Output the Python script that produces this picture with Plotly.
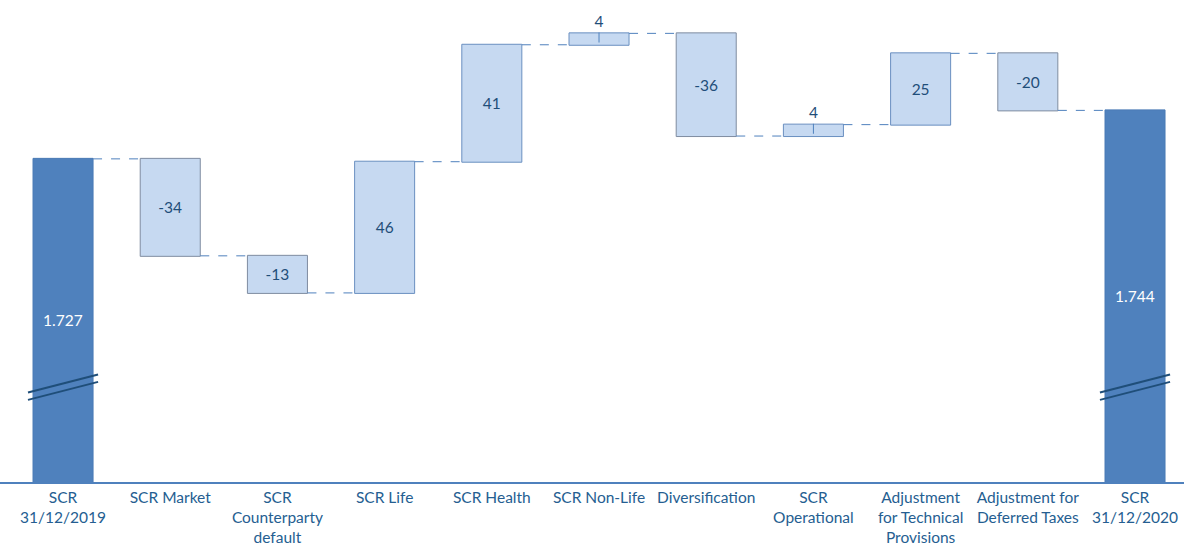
import plotly.graph_objects as go

categories = ["SCR<br>31/12/2019", "SCR Market", "SCR<br>Counterparty<br>default", "SCR Life",
              "SCR Health", "SCR Non-Life", "Diversification", "SCR<br>Operational",
              "Adjustment<br>for Technical<br>Provisions", "Adjustment for<br>Deferred Taxes",
              "SCR<br>31/12/2020"]
values = [1727, -34, -13, 46, 41, 4, -36, 4, 25, -20, 1744]
measures = ["absolute"] + ["relative"] * 9 + ["total"]
labels = ["1.727", "-34", "-13", "46", "41", "4", "-36", "4", "25", "-20", "1.744"]

Y_MIN, Y_MAX = 1613.7, 1782.7
FONT = "Lato"
VAL_COLOR = "#1f4e79"
TICK_COLOR = "#255e91"

x = list(range(len(categories)))

textpos = []
texts = []
for i, v in enumerate(values):
    if measures[i] != "relative":
        textpos.append("none")
        texts.append("")
    elif abs(v) < 8:
        textpos.append("outside")
        texts.append(labels[i])
    else:
        textpos.append("inside")
        texts.append(labels[i])

fig = go.Figure(go.Waterfall(
    x=x, y=values, measure=measures,
    text=texts, textposition=textpos,
    textfont=dict(family=FONT, size=15.5, color=VAL_COLOR),
    insidetextanchor="middle",
    width=0.56,
    connector=dict(mode="between", line=dict(color="#4f81bd", width=1, dash="dash")),
    increasing=dict(marker=dict(color="#c6d9f1", line=dict(color="#6a8fc0", width=1))),
    decreasing=dict(marker=dict(color="#c6d9f1", line=dict(color="#7f8ca0", width=1))),
    totals=dict(marker=dict(color="#4f81bd", line=dict(color="#4a7ab5", width=1))),
    cliponaxis=False,
    showlegend=False,
))

running = []
cur = 0
for m, v in zip(measures, values):
    if m == "absolute":
        cur = v
    elif m == "relative":
        cur += v
    running.append(cur)

shapes = []
annotations = []
for i, m in enumerate(measures):
    if m != "relative":
        top = values[i] if m == "absolute" else running[i]
        annotations.append(dict(x=i, y=(top + Y_MIN) / 2, text=labels[i], showarrow=False,
                                font=dict(family=FONT, size=15.5, color="white"),
                                xref="x", yref="y"))
        for off in (0, -2.6):
            shapes.append(dict(type="line", xref="x", yref="y",
                               x0=i - 0.327, x1=i + 0.327,
                               y0=1645.1 + off, y1=1651.4 + off,
                               line=dict(color="#1f4e79", width=2)))
    elif abs(values[i]) < 8:
        lo = running[i] - values[i]
        hi = running[i]
        mid = (lo + hi) / 2
        shapes.append(dict(type="line", xref="x", yref="y",
                           x0=i, x1=i, y0=mid - 1.2, y1=hi + 0.3,
                           line=dict(color="#4f81bd", width=1)))

fig.update_layout(
    width=1184, height=546,
    margin=dict(l=0, r=0, t=0, b=59),
    paper_bgcolor="white", plot_bgcolor="white",
    shapes=shapes, annotations=annotations,
    font=dict(family=FONT, size=15.5, color=TICK_COLOR),
    xaxis=dict(range=[-0.588, 10.457], tickmode="array", tickvals=x, ticktext=categories,
               showline=True, linecolor="#4f81bd", linewidth=2, showgrid=False,
               ticks="", tickfont=dict(family=FONT, size=15.5, color=TICK_COLOR)),
    yaxis=dict(range=[Y_MIN, Y_MAX], visible=False, showgrid=False),
)

fig.write_html("out.html")
